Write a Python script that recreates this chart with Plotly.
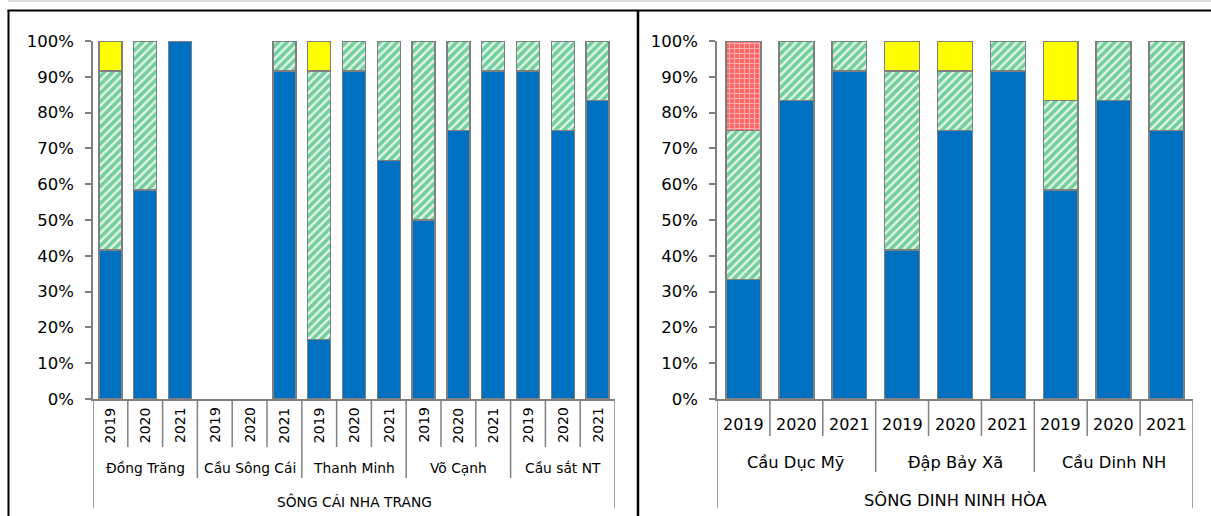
import plotly.graph_objects as go

# ---------------- data ----------------
years = ["2019", "2020", "2021"]

left_river = "SÔNG CÁI NHA TRANG"
left_stations = ["Đồng Trăng", "Cầu Sông Cái", "Thanh Minh", "Võ Cạnh", "Cầu sắt NT"]
left_blue   = [41.67, 58.33, 100, 0, 0, 91.67, 16.67, 91.67, 66.67, 50, 75, 91.67, 91.67, 75, 83.33]
left_green  = [50, 41.67, 0, 0, 0, 8.33, 75, 8.33, 33.33, 50, 25, 8.33, 8.33, 25, 16.67]
left_yellow = [8.33, 0, 0, 0, 0, 0, 8.33, 0, 0, 0, 0, 0, 0, 0, 0]
left_red    = [0] * 15

right_river = "SÔNG DINH NINH HÒA"
right_stations = ["Cầu Dục Mỹ", "Đập Bảy Xã", "Cầu Dinh NH"]
right_blue   = [33.33, 83.33, 91.67, 41.67, 75, 91.67, 58.33, 83.33, 75]
right_green  = [41.67, 16.67, 8.33, 50, 16.67, 8.33, 25, 16.67, 25]
right_yellow = [0, 0, 0, 8.33, 8.33, 0, 16.67, 0, 0]
right_red    = [25, 0, 0, 0, 0, 0, 0, 0, 0]

yticks = [0, 10, 20, 30, 40, 50, 60, 70, 80, 90, 100]
# --------------------------------------

W, H = 1211, 516
FONT = "DejaVu Sans"
GRAY = "#808080"
TXT = "#000000"


def px_x(p):
    return p / W


def px_y(p):
    return (H - p) / H


fig = go.Figure()

styles = [
    dict(color="#0070C0"),
    dict(color="#FFFFFF", pattern=dict(shape="/", fgcolor="#00A84A", bgcolor="#E6F7EC", size=6, solidity=0.62)),
    dict(color="#FFFF00"),
    dict(color="#FF7070", pattern=dict(shape="+", fgcolor="#FFF4F4", bgcolor="#FF6464", size=5, solidity=0.4)),
]


def add_panel(series, xa, ya):
    n = len(series[0])
    xs = list(range(n))
    for vals, st in zip(series, styles):
        fig.add_trace(go.Bar(
            x=xs, y=[v / 100 if v else None for v in vals], xaxis=xa, yaxis=ya,
            marker=dict(**st, line=dict(color=GRAY, width=1.5)),
            showlegend=False, hoverinfo="skip",
        ))


add_panel([left_blue, left_green, left_yellow, left_red], "x", "y")
add_panel([right_blue, right_green, right_yellow, right_red], "x2", "y2")

ydom = [px_y(399), px_y(41)]
yax = dict(range=[0, 1], tickvals=[t / 100 for t in yticks], ticktext=[f"{t}%" for t in yticks],
           showgrid=False, zeroline=False, showline=True, linecolor=GRAY, linewidth=1.5,
           ticks="outside", ticklen=6, tickcolor=GRAY, tickwidth=1.5, automargin=False,
           tickfont=dict(family=FONT, size=16.5, color=TXT), ticklabelstandoff=8, domain=ydom)
fig.update_layout(
    width=W, height=H, margin=dict(l=0, r=0, t=0, b=0, pad=0, autoexpand=False),
    paper_bgcolor="white", plot_bgcolor="white",
    barmode="stack", bargap=0.34,
    xaxis=dict(domain=[px_x(93), px_x(615)], range=[-0.5, 14.5], showticklabels=False, ticks="",
               showgrid=False, zeroline=False, showline=True, linecolor=GRAY, linewidth=1.5, anchor="y",
               automargin=False),
    xaxis2=dict(domain=[px_x(717), px_x(1193)], range=[-0.5, 8.5], showticklabels=False, ticks="",
                showgrid=False, zeroline=False, showline=True, linecolor=GRAY, linewidth=1.5, anchor="y2",
                automargin=False),
    yaxis=dict(**yax, anchor="x"),
    yaxis2=dict(**yax, anchor="x2"),
)

shapes = []
annos = []


def vline(xref, x, y0, y1):
    shapes.append(dict(type="line", xref=xref, yref="paper", x0=x, x1=x, y0=px_y(y0), y1=px_y(y1),
                       line=dict(color=GRAY, width=1.5)))


def hier(xref, stations, river, yr_y, yr_bot, st_y, st_bot, rv_y, rv_bot, yr_size, st_size, rv_size, yr_angle):
    n = len(stations) * len(years)
    for i in range(n):
        annos.append(dict(xref=xref, yref="paper", x=i, y=px_y(yr_y), text=years[i % 3], showarrow=False,
                          textangle=yr_angle, font=dict(family=FONT, size=yr_size, color=TXT),
                          xanchor="center", yanchor="middle"))
    for i in range(1, n):
        if i % 3:
            vline(xref, i - 0.5, 399, yr_bot)
    for s, name in enumerate(stations):
        annos.append(dict(xref=xref, yref="paper", x=s * 3 + 1, y=px_y(st_y), text=name, showarrow=False,
                          font=dict(family=FONT, size=st_size, color=TXT), xanchor="center", yanchor="middle"))
        if s > 0:
            vline(xref, s * 3 - 0.5, 399, st_bot)
    annos.append(dict(xref=xref, yref="paper", x=(n - 1) / 2, y=px_y(rv_y), text=river, showarrow=False,
                      font=dict(family=FONT, size=rv_size, color=TXT), xanchor="center", yanchor="middle"))
    vline(xref, -0.5, 399, rv_bot)
    vline(xref, n - 0.5, 399, rv_bot)


hier("x", left_stations, left_river, 425, 447, 468, 478, 501, 508, 14, 13.8, 13.8, -90)
hier("x2", right_stations, right_river, 424, 436, 462, 472, 500, 508, 16, 16.3, 16.3, 0)

# frames
shapes.append(dict(type="line", xref="paper", yref="paper", x0=px_x(8), x1=1, y0=px_y(1), y1=px_y(1),
                   line=dict(color="#BFBFBF", width=1)))
shapes.append(dict(type="line", xref="paper", yref="paper", x0=px_x(7.5), x1=1, y0=px_y(10.5), y1=px_y(10.5),
                   line=dict(color="#000000", width=2)))
shapes.append(dict(type="line", xref="paper", yref="paper", x0=px_x(8.5), x1=px_x(8.5), y0=px_y(10), y1=0,
                   line=dict(color="#000000", width=2)))
shapes.append(dict(type="line", xref="paper", yref="paper", x0=px_x(638), x1=px_x(638), y0=px_y(10), y1=0,
                   line=dict(color="#000000", width=2.5)))

fig.update_layout(shapes=shapes, annotations=annos)
fig.write_html("out.html", config={"displayModeBar": False},
               post_script="document.body.style.margin='0';document.documentElement.style.overflow='hidden';")
